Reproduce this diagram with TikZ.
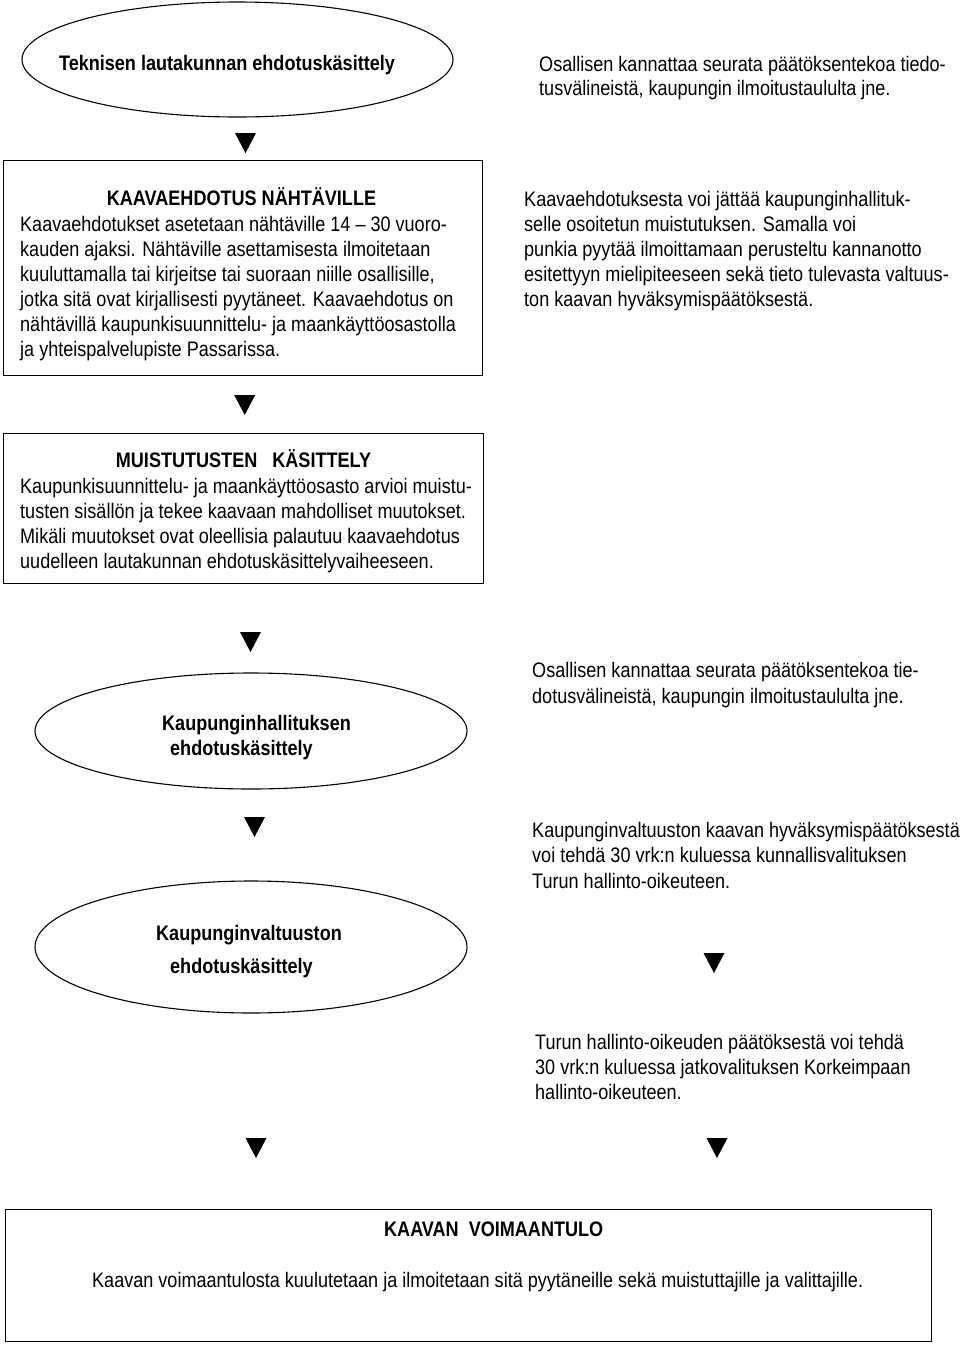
\documentclass[tikz,border=0pt]{standalone}
\usepackage{fontspec}
\setmainfont{Liberation Sans}[FakeStretch=0.86]
\usetikzlibrary{shapes.geometric}

\begin{document}
\begin{tikzpicture}[x=1pt,y=-1pt]
	\tikzstyle{Oval} = [draw, ellipse, line width=1.1pt, inner sep=0pt]
	\tikzstyle{Box} = [draw, line width=1.1pt, anchor=north west, inner sep=0pt]
	\tikzstyle{Txt} = [inner sep=0pt, anchor=base west, align=left, font=\fontsize{21}{25}\selectfont]
	\tikzstyle{Head} = [Txt, font=\fontsize{21}{25}\selectfont\bfseries]
	\useasboundingbox (0,0) rectangle (960,1345);

	% left column (multi-line texts sit on the baseline of their last line)
	\node[Oval, minimum width=431, minimum height=115] (tekn) at (237.5,59.5) {};
	\node[Head, anchor=base] (tekntxt) at (227,70.5) {Teknisen lautakunnan ehdotuskäsittely};

	\node[Box, minimum width=479, minimum height=215] (nakyv) at (3,160) {};
	\node[Head, anchor=base] (nakyvhead) at (241.5,205.5) {KAAVAEHDOTUS NÄHTÄVILLE};
	\node[Txt] (nakyvtxt) at (20,356.5) {Kaavaehdotukset asetetaan nähtäville 14 – 30 vuoro-\\kauden ajaksi. Nähtäville asettamisesta ilmoitetaan\\kuuluttamalla tai kirjeitse tai suoraan niille osallisille,\\jotka sitä ovat kirjallisesti pyytäneet. Kaavaehdotus on\\nähtävillä kaupunkisuunnittelu- ja maankäyttöosastolla\\ja yhteispalvelupiste Passarissa.};

	\node[Box, minimum width=480, minimum height=150] (muist) at (3,433) {};
	\node[Head, anchor=base] (muisthead) at (243.5,467) {MUISTUTUSTEN\ \ \ KÄSITTELY};
	\node[Txt] (muisttxt) at (20,568) {Kaupunkisuunnittelu- ja maankäyttöosasto arvioi muistu-\\tusten sisällön ja tekee kaavaan mahdolliset muutokset.\\Mikäli muutokset ovat oleellisia palautuu kaavaehdotus\\uudelleen lautakunnan ehdotuskäsittelyvaiheeseen.};

	\node[Oval, minimum width=432, minimum height=116] (khall) at (251,731) {};
	\node[Head] (khalltxt) at (162,755) {Kaupunginhallituksen\\\hspace{8pt}ehdotuskäsittely};

	\node[Oval, minimum width=432, minimum height=132] (kvalt) at (251,947) {};
	\node[Head] (kvalttxt) at (156,973) {Kaupunginvaltuuston\\[8pt]\hspace{14pt}ehdotuskäsittely};

	% right column
	\node[Txt, font=\fontsize{21}{24}\selectfont] (huom1) at (539,95.5) {Osallisen kannattaa seurata päätöksentekoa tiedo-\\tusvälineistä, kaupungin ilmoitustaululta jne.};
	\node[Txt] (huom2) at (524,306.7) {Kaavaehdotuksesta voi jättää kaupunginhallituk-\\selle osoitetun muistutuksen. Samalla voi\\punkia pyytää ilmoittamaan perusteltu kannanotto\\esitettyyn mielipiteeseen sekä tieto tulevasta valtuus-\\ton kaavan hyväksymispäätöksestä.};
	\node[Txt, font=\fontsize{21}{26}\selectfont] (huom3) at (532,703) {Osallisen kannattaa seurata päätöksentekoa tie-\\dotusvälineistä, kaupungin ilmoitustaululta jne.};
	\node[Txt, font=\fontsize{21}{25.5}\selectfont] (huom4) at (532,888) {Kaupunginvaltuuston kaavan hyväksymispäätöksestä\\voi tehdä 30 vrk:n kuluessa kunnallisvalituksen\\Turun hallinto-oikeuteen.};
	\node[Txt] (huom5) at (535,1099) {Turun hallinto-oikeuden päätöksestä voi tehdä\\30 vrk:n kuluessa jatkovalituksen Korkeimpaan\\hallinto-oikeuteen.};

	% bottom
	\node[Box, minimum width=926, minimum height=132] (voim) at (5,1209) {};
	\node[Head] (voimhead) at (384,1236) {KAAVAN\ \ VOIMAANTULO};
	\node[Txt] (voimtxt) at (92,1287) {Kaavan voimaantulosta kuulutetaan ja ilmoitetaan sitä pyytäneille sekä muistuttajille ja valittajille.};

	% arrows
	\foreach \x/\y in {245.5/143, 244.7/405, 250.5/642, 254.5/827, 714/963, 256/1148, 717/1148}
		\fill (\x-10.5,\y-10) -- (\x+10.5,\y-10) -- (\x,\y+10) -- cycle;
\end{tikzpicture}
\end{document}
